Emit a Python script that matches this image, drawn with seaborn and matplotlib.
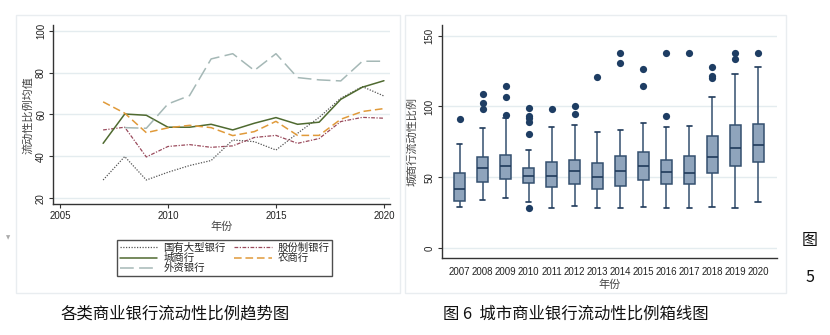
import matplotlib
matplotlib.use("Agg")
import matplotlib.pyplot as plt
from matplotlib.patches import Rectangle
import seaborn as sns
import pandas as pd
import numpy as np

sns.set_theme(style="white")
plt.rcParams['font.family'] = ['Liberation Sans', 'Noto Sans CJK SC', 'DejaVu Sans']
CJK = ['Noto Sans CJK SC', 'DejaVu Sans']

# ---------------- left chart data ----------------
years = [2007, 2008, 2009, 2010, 2011, 2012, 2013, 2014, 2015, 2016, 2017, 2018, 2019, 2020]
guoyou = [28.7, 39.9, 28.7, 32.4, 35.6, 38.0, 47.8, 47.0, 43.0, 51.0, 58.6, 67.7, 73.3, 68.8]
gufen = [52.6, 53.9, 39.7, 44.7, 45.6, 44.3, 45.0, 49.0, 50.0, 46.2, 48.5, 56.6, 58.6, 58.2]
chengshang = [46.2, 60.2, 59.6, 53.9, 53.9, 55.3, 52.6, 55.8, 58.5, 55.3, 56.3, 67.2, 73.0, 76.1]
nongshang = [66.0, 60.6, 51.3, 53.6, 54.8, 53.7, 49.9, 51.8, 56.7, 50.0, 50.0, 57.7, 61.4, 62.8]
waizi = [np.nan, 53.7, 53.4, 65.0, 69.0, 86.5, 89.0, 81.0, 89.0, 77.6, 76.5, 76.0, 85.4, 85.4]
series_names = ['国有大型银行', '股份制银行', '城商行', '农商行', '外资银行']

# ---------------- right chart data (box summaries) ----------------
box_years = ['2007', '2008', '2009', '2010', '2011', '2012', '2013',
             '2014', '2015', '2016', '2017', '2018', '2019', '2020']
whisk_low = [29.4, 34.1, 35.3, 32.7, 28.7, 30.1, 28.7, 28.7, 29.2, 28.7, 28.7, 29.4, 28.7, 32.4]
q1 = [33.6, 47.0, 48.7, 46.1, 43.0, 45.6, 41.6, 44.2, 48.0, 45.4, 45.4, 53.1, 58.1, 60.7]
median = [41.9, 56.7, 58.1, 50.8, 50.8, 54.5, 50.3, 54.5, 57.8, 53.6, 53.4, 64.4, 70.8, 72.9]
q3 = [52.9, 64.4, 65.8, 56.7, 60.7, 62.5, 60.4, 65.4, 67.7, 62.5, 64.9, 79.5, 86.8, 87.9]
whisk_high = [73.4, 85.1, 92.2, 69.1, 85.4, 87.2, 81.8, 83.5, 88.6, 85.4, 86.0, 106.5, 123.0, 127.7]
outliers = {
    '2007': [91.2],
    '2008': [108.9, 102.5, 98.3],
    '2009': [114.7, 107.0, 93.8],
    '2010': [99.2, 93.3, 91.7, 88.9, 80.9, 28.7],
    '2011': [98.5],
    '2012': [100.4, 94.5],
    '2013': [120.9],
    '2014': [137.8, 130.5],
    '2015': [126.5, 114.3],
    '2016': [137.8, 93.3],
    '2017': [137.8],
    '2018': [128.1, 121.8, 120.4],
    '2019': [137.8, 133.6],
    '2020': [137.8],
}

fig = plt.figure(figsize=(8.3, 3.35), dpi=100)

# panel frames
frame_col = '#e9edf0'
fig.patches.append(Rectangle((16/830, 1-293/335), (400-16)/830, (293-15)/335,
                             transform=fig.transFigure, fill=False, edgecolor=frame_col, lw=1))
fig.patches.append(Rectangle((405/830, 1-293/335), (786-405)/830, (293-15)/335,
                             transform=fig.transFigure, fill=False, edgecolor=frame_col, lw=1))

grid_col = '#e4ecef'
spine_col = '#333333'

# ---------------- left axes ----------------
ax1 = fig.add_axes([53/830, 1-204.3/335, (390-53)/830, (204.3-25)/335])
styles = [
    dict(color='#555555', linestyle=(0, (1, 1.2)), lw=0.9),
    dict(color='#9a4a5c', linestyle=(0, (3, 1.2, 1, 1.2)), lw=0.9),
    dict(color='#4f6a30', linestyle='-', lw=1.1),
    dict(color='#e09a3a', linestyle=(0, (5, 2.5)), lw=1.1),
    dict(color='#a5b8b6', linestyle=(0, (9, 3.5)), lw=1.1),
]
all_series = [guoyou, gufen, chengshang, nongshang, waizi]
for name, vals, st in zip(series_names, all_series, styles):
    sns.lineplot(x=years, y=vals, ax=ax1, label=name, color=st['color'],
                 linestyle=st['linestyle'], linewidth=st['lw'])
ax1.set_xlim(2004.68, 2020.28)
ax1.set_ylim(17.1, 102.7)
ax1.set_xticks([2005, 2010, 2015, 2020])
ax1.set_yticks([20, 40, 60, 80, 100])
ax1.yaxis.grid(True, color=grid_col, lw=1)
ax1.xaxis.grid(False)
for s in ['top', 'right']:
    ax1.spines[s].set_visible(False)
for s in ['left', 'bottom']:
    ax1.spines[s].set_color(spine_col)
    ax1.spines[s].set_linewidth(1)
ax1.tick_params(axis='both', direction='out', length=3, width=0.8, color=spine_col,
                labelsize=7, pad=2, colors='#222222', bottom=True, left=True)
for lab in ax1.get_yticklabels():
    lab.set_rotation(90)
    lab.set_va('center')
ax1.set_xlabel('年份', family=CJK, fontsize=8, color='#444444', labelpad=0)
ax1.set_ylabel('流动性比例均值', family=CJK, fontsize=8, color='#444444', labelpad=2)
handles, labels = ax1.get_legend_handles_labels()
ax1.get_legend().remove()
order = [0, 2, 4, 1, 3]  # column-major fill -> row-wise reading order
leg = fig.legend([handles[i] for i in order], [labels[i] for i in order],
                 loc='upper left', bbox_to_anchor=(112/830, 1-235/335), ncol=2,
                 frameon=True, fancybox=False, edgecolor='#222222',
                 prop={'family': CJK, 'size': 7.5}, handlelength=3.6,
                 columnspacing=0.8, labelspacing=0.0, borderpad=0.25,
                 handletextpad=0.6)
leg.get_frame().set_linewidth(1)

# ---------------- right axes ----------------
ax2 = fig.add_axes([441.7/830, 1-258.3/335, (776.7-441.7)/830, (258.3-25)/335])
rows = []
for i, yr in enumerate(box_years):
    for v in [whisk_low[i], q1[i], median[i], q3[i], whisk_high[i]]:
        rows.append({'year': yr, 'val': v})
box_df = pd.DataFrame(rows)
out_rows = [{'year': yr, 'val': v} for yr in box_years for v in outliers[yr]]
out_df = pd.DataFrame(out_rows)

box_fill = '#8fa4bc'
box_edge = '#34506f'
sns.boxplot(data=box_df, x='year', y='val', order=box_years, ax=ax2,
            whis=(0, 100), width=0.5, color=box_fill, saturation=1,
            linecolor=box_edge, linewidth=1.1, showfliers=False,
            medianprops=dict(color='#1f3a5a', linewidth=1.2),
            capprops=dict(color='#1f3a5a', linewidth=1.2))
sns.stripplot(data=out_df, x='year', y='val', order=box_years, ax=ax2,
              jitter=False, color='#1e3d63', size=5.2, linewidth=0)
ax2.set_xlim(-0.78, 13.8)
ax2.set_ylim(-7.1, 157.5)
ax2.set_yticks([0, 50, 100, 150])
ax2.yaxis.grid(True, color=grid_col, lw=1)
ax2.xaxis.grid(False)
ax2.set_axisbelow(True)
for s in ['top', 'right']:
    ax2.spines[s].set_visible(False)
for s in ['left', 'bottom']:
    ax2.spines[s].set_color(spine_col)
    ax2.spines[s].set_linewidth(1)
ax2.tick_params(axis='y', direction='out', length=3, width=0.8, color=spine_col,
                labelsize=7, pad=2, colors='#222222', left=True)
ax2.tick_params(axis='x', length=0, labelsize=7, pad=6, colors='#222222')
for lab in ax2.get_yticklabels():
    lab.set_rotation(90)
    lab.set_va('center')
ax2.set_xlabel('年份', family=CJK, fontsize=8, color='#444444', labelpad=2)
ax2.set_ylabel('城商行流动性比例', family=CJK, fontsize=8, color='#444444', labelpad=5)

# ---------------- captions and stray text ----------------
fig.text(60/830, 1-314/335, '各类商业银行流动性比例趋势图', family=CJK, fontsize=11.8,
         color='#111111', va='center', ha='left')
fig.text(443/830, 1-314/335, '图 6  城市商业银行流动性比例箱线图', family=CJK, fontsize=11.8,
         color='#111111', va='center', ha='left')
fig.text(810/830, 1-240/335, '图', family=CJK, fontsize=11.5, color='#111111',
         va='center', ha='center')
fig.text(810/830, 1-278/335, '5', family=CJK, fontsize=11.5, color='#111111',
         va='center', ha='center')
fig.text(8/830, 1-238/335, '▼', family=['DejaVu Sans'], fontsize=4, color='#aaaaaa',
         va='center', ha='center')

fig.savefig('out.png', dpi=100)
